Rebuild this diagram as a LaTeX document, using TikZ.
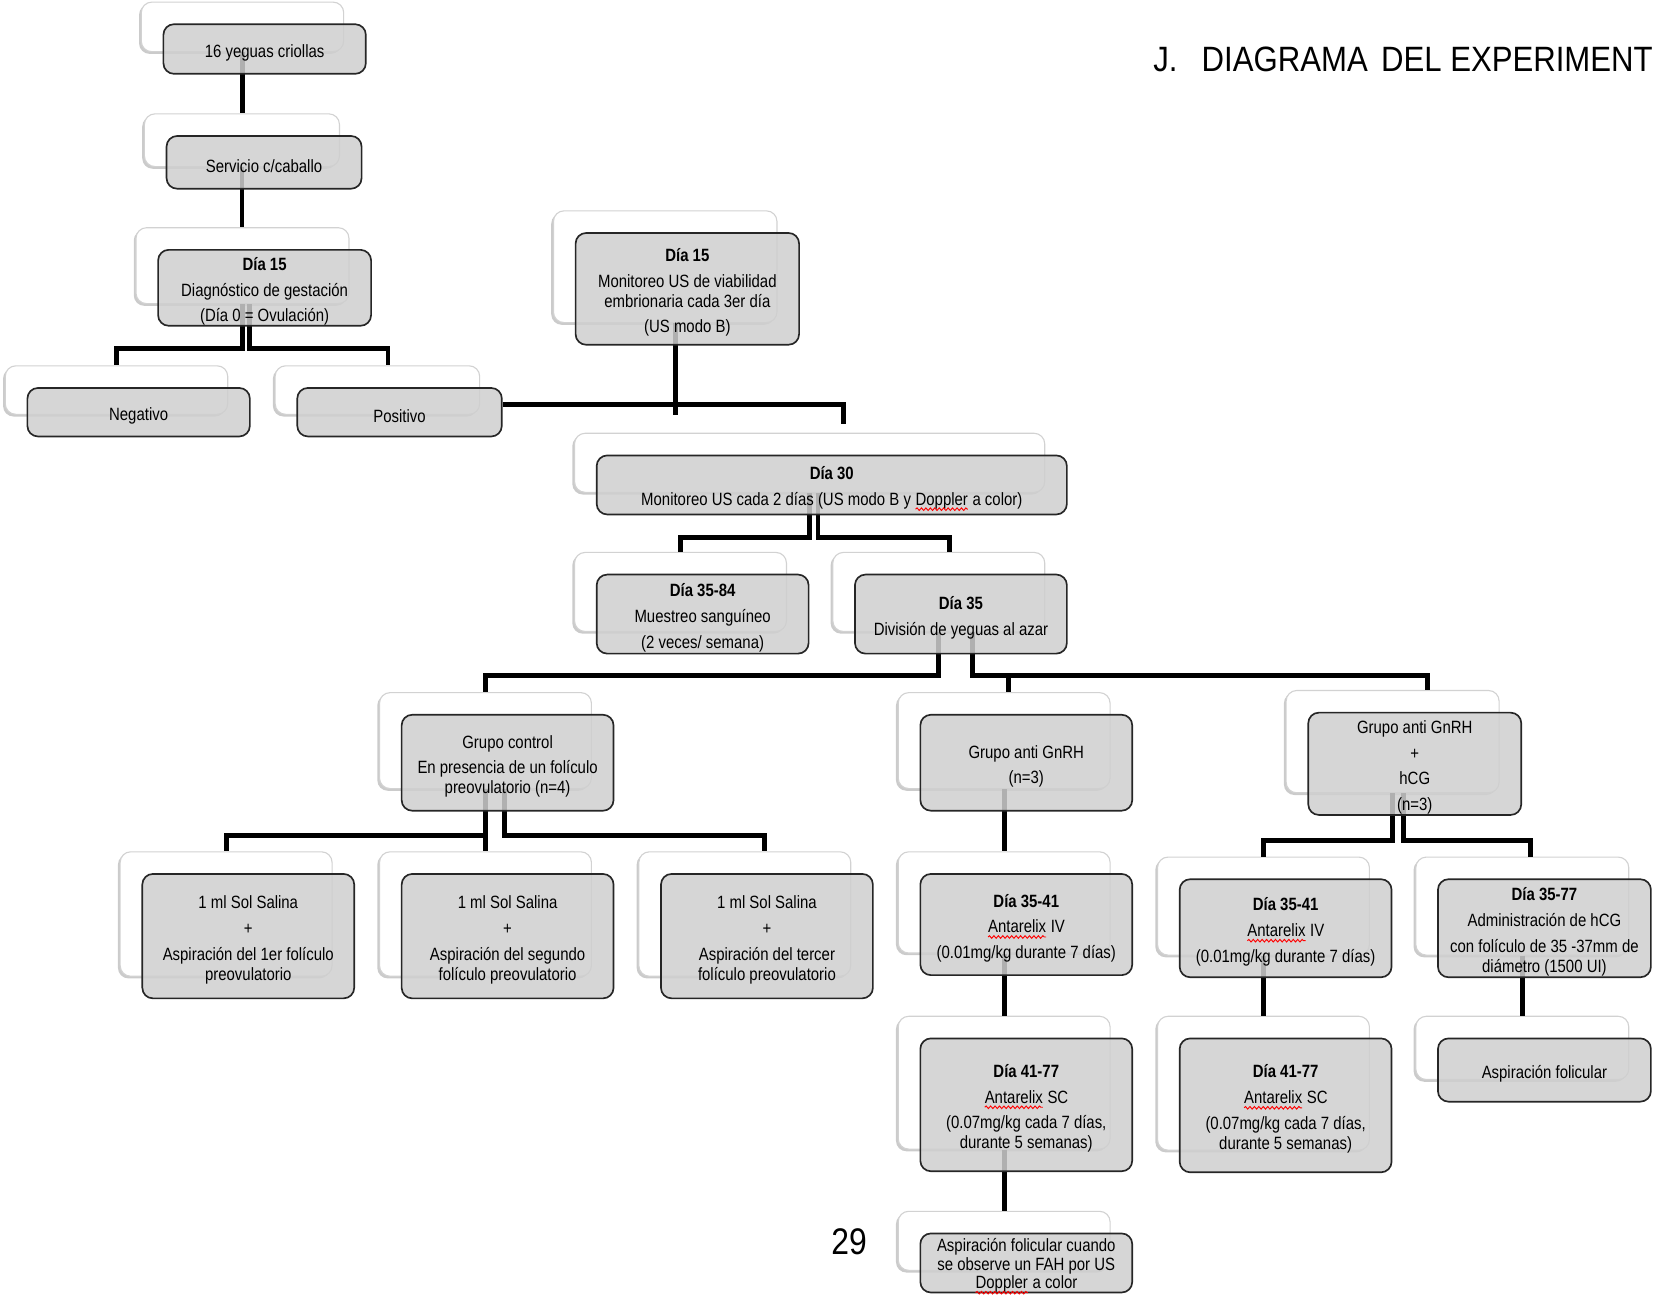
\documentclass[tikz,border=0pt]{standalone}
\usepackage{fontspec}
\setmainfont{Liberation Sans}[FakeStretch=0.84]
\newfontfamily\titlefont{Liberation Sans}[FakeStretch=0.885]
\newfontfamily\pagefont{Liberation Sans}[FakeStretch=0.86]
\usetikzlibrary{calc, shadows, decorations.pathmorphing}
\definecolor{boxgray}{RGB}{207,207,207}
\pgfdeclarelayer{background}
\pgfdeclarelayer{foreground}
\pgfsetlayers{background,main,foreground}
\newcommand{\wavy}[1]{\tikz[baseline=(w.base)]{\node[shape=rectangle, draw=none, fill=none, inner sep=0pt, outer sep=0pt,
    minimum width=0pt, minimum height=0pt, anchor=base] (w) at (0,0) {#1};
  \draw[red, line width=0.5pt, sharp corners, decorate, decoration={snake, amplitude=0.7pt, segment length=2.4pt}]
    ([yshift=-2.2pt]w.base west) -- ([yshift=-2.2pt]w.base east);}}
\newcommand{\twobox}[6]{%
  \begin{pgfonlayer}{background}
    \node[backbox, minimum width=#4*0.02cm, minimum height=#5*0.02cm] (#1b) at ($(#2,#3)+(-21,-21)$) {};
  \end{pgfonlayer}
  \begin{pgfonlayer}{foreground}
    \node[frontbox, minimum width=#4*0.02cm, minimum height=#5*0.02cm] (#1) at (#2,#3) {};
    \node[boxtext] (#1t) at ($(#2,#3)+(0,3.5)$) {#6};
  \end{pgfonlayer}}
\tikzset{
  backbox/.style={rounded corners=0.2cm, draw=gray!35, fill=white, line width=0.6pt,
    drop shadow={shadow xshift=-1.2pt, shadow yshift=-1.2pt, fill=black!45, opacity=0.45}},
  frontbox/.style={rounded corners=0.2cm, draw=black!85, line width=0.9pt, fill=boxgray,
    fill opacity=0.85, inner sep=0pt},
  boxtext/.style={inner sep=0pt, align=center, font=\fontsize{9.6}{13.9}\selectfont},
  link/.style={line width=0.09cm}
}

\begin{document}
\begin{tikzpicture}[x=0.02cm, y=-0.02cm]
\useasboundingbox (0,0) rectangle (1568,1228);

\node[anchor=base west, inner sep=0pt, font=\titlefont\fontsize{19}{22}\selectfont] (title) at (1093.6,68)
  {J.\hspace{0.46cm}DIAGRAMA\hspace{0.25cm}DEL EXPERIMENT};
\node[inner sep=0pt, font=\pagefont\fontsize{20}{24}\selectfont] (page) at (805.5,1178) {29};

% left column
\twobox{yeg}{251}{46.5}{192}{47}{16 yeguas criollas}
\twobox{serv}{250.5}{154}{185}{50}{Servicio c/caballo}
\twobox{diag}{251}{273}{202}{72}{\textbf{Día 15}\\ Diagnóstico de gestación\\ (Día 0 = Ovulación)}
\twobox{neg}{131.5}{391}{211}{46}{Negativo}
\twobox{pos}{379}{391}{194}{46}{Positivo}

% monitoring
\twobox{mon}{652}{274}{212}{106}{\textbf{Día 15}\\ Monitoreo US de viabilidad\\[-3.1pt] embrionaria cada 3er día\\ (US modo B)}
\twobox{dia30}{789}{460}{446}{56}{\textbf{Día 30}\\ Monitoreo US cada 2 días (US modo B y \wavy{Doppler} a color)}
\twobox{sang}{666.5}{582.5}{201}{75}{\textbf{Día 35-84}\\ Muestreo sanguíneo\\ (2 veces/ semana)}
\twobox{div}{911.5}{582.5}{201}{75}{\textbf{Día 35}\\ División de yeguas al azar}

% groups
\twobox{ctrl}{481.5}{723.5}{201}{91}{Grupo control\\ En presencia de un folículo\\[-3.1pt] preovulatorio (n=4)}
\twobox{anti}{973.5}{723.5}{201}{91}{Grupo anti GnRH\\ (n=3)}
\twobox{hcg}{1342}{724.5}{202}{97}{Grupo anti GnRH\\ +\\ hCG\\ (n=3)}

% control group
\twobox{sol1}{235.5}{888}{201}{118}{1 ml Sol Salina\\ +\\ Aspiración del 1er folículo\\[-3.1pt] preovulatorio}
\twobox{sol2}{481.5}{888}{201}{118}{1 ml Sol Salina\\ +\\ Aspiración del segundo\\[-3.1pt] folículo preovulatorio}
\twobox{sol3}{727.5}{888}{201}{118}{1 ml Sol Salina\\ +\\ Aspiración del tercer\\[-3.1pt] folículo preovulatorio}

% anti GnRH group
\twobox{iv1}{973.5}{877}{201}{96}{\textbf{Día 35-41}\\ \wavy{Antarelix} IV\\ (0.01mg/kg durante 7 días)}
\twobox{sc1}{973.5}{1048}{201}{126}{\textbf{Día 41-77}\\ \wavy{Antarelix} SC\\ (0.07mg/kg cada 7 días,\\[-3.1pt] durante 5 semanas)}
\twobox{asp1}{973.5}{1198}{201}{56}{Aspiración folicular cuando\\[-4pt] se observe un FAH por US\\[-4pt] \wavy{Doppler} a color}

% anti GnRH + hCG group
\twobox{iv2}{1219.5}{880.5}{201}{93}{\textbf{Día 35-41}\\ \wavy{Antarelix} IV\\ (0.01mg/kg durante 7 días)}
\twobox{adm}{1465}{880.5}{202}{93}{\textbf{Día 35-77}\\ Administración de hCG\\ con folículo de 35 -37mm de\\[-3.1pt] diámetro (1500 UI)}
\twobox{sc2}{1219.5}{1048.5}{201}{127}{\textbf{Día 41-77}\\ \wavy{Antarelix} SC\\ (0.07mg/kg cada 7 días,\\[-3.1pt] durante 5 semanas)}
\twobox{asp2}{1465}{1015}{202}{60}{Aspiración folicular}

% connectors
\draw[link] (yegb.south) -- (yegb.south |- servb.north);
\draw[link] (servb.south) -- (servb.south |- diagb.north);
\draw[link] (diagb.south) -- ++(0,42) -| (negb.north);
\draw[link] ($(diagb.south)+(7,0)$) -- ++(0,42) -| ($(posb.north)+(10,0)$);
\draw[link] ($(monb.south)+(10,0)$) -- ++(0,87);
\draw[link] ($(pos.east)+(0,-7)$) -| ($(dia30b.north)+(32,-8)$);
\draw[link] (dia30b.south) -- ++(0,42) -| (sangb.north);
\draw[link] ($(dia30b.south)+(8,0)$) -- ++(0,42) -| ($(divb.north)+(10,0)$);
\draw[link] (divb.south) -- ++(0,41) -| (ctrlb.north);
\draw[link] ($(divb.south)+(32,0)$) -- ++(0,41) -| ($(antib.north)+(4,0)$);
\draw[link] ($(divb.south)+(32,0)$) -- ++(0,41) -| ($(hcgb.north)+(33,0)$);
\draw[link] (ctrlb.south) -- ++(0,44) -| (sol1b.north);
\draw[link] (ctrlb.south) -- ++(0,44) -| (sol2b.north);
\draw[link] ($(ctrlb.south)+(18,0)$) -- ++(0,44) -| ($(sol3b.north)+(19,0)$);
\draw[link] (antib.south) -- (antib.south |- iv1b.north);
\draw[link] (iv1b.south) -- (sc1b.north);
\draw[link] (sc1b.south) -- (asp1b.north);
\draw[link] (hcgb.south) -- ++(0,45) -| (iv2b.north);
\draw[link] ($(hcgb.south)+(10,0)$) -- ++(0,45) -| ($(admb.north)+(8,0)$);
\draw[link] (iv2b.south) -- (sc2b.north);
\draw[link] (admb.south) -- (asp2b.north);
\end{tikzpicture}
\end{document}
